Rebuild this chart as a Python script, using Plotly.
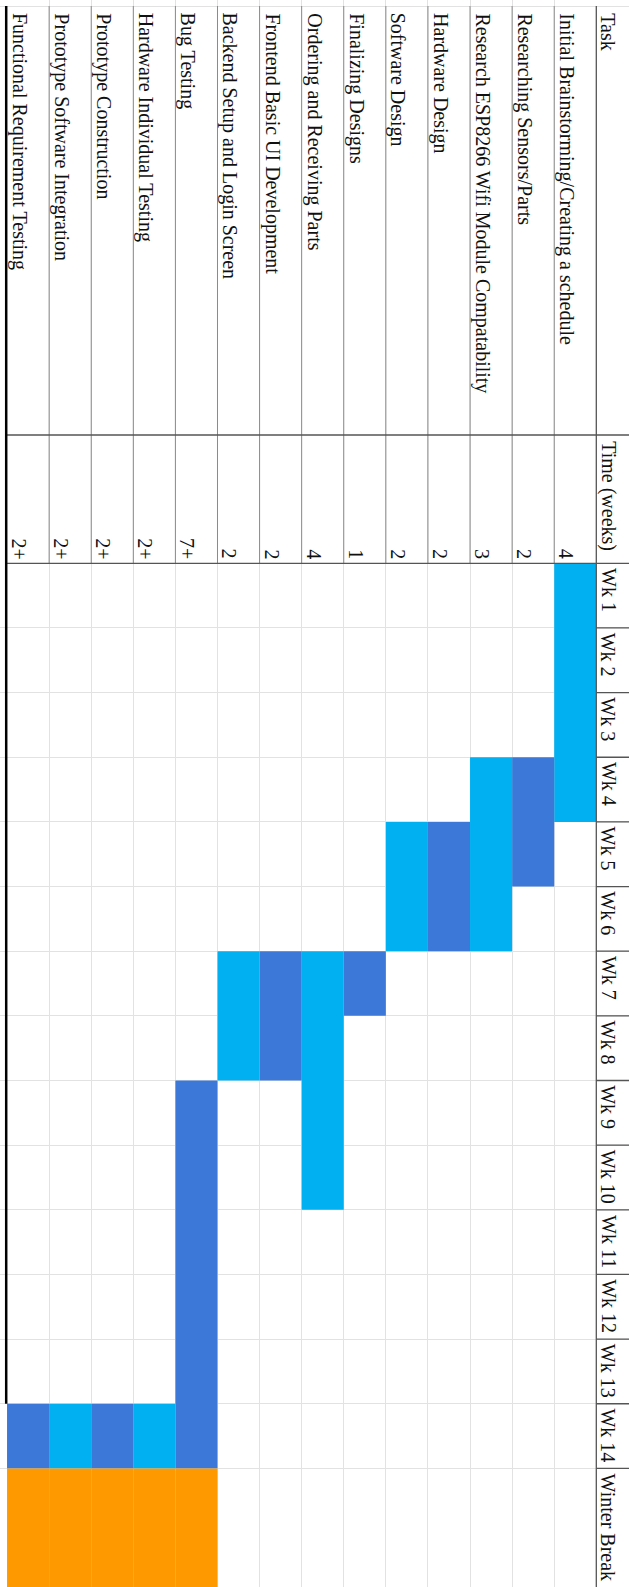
import plotly.graph_objects as go

# ---------------- data ----------------
tasks = [
    "Initial Brainstorming/Creating a schedule",
    "Researching Sensors/Parts",
    "Research ESP8266 Wifi Module Compatability",
    "Hardware Design",
    "Software Design",
    "Finalizing Designs",
    "Ordering and Receiving Parts",
    "Frontend Basic UI Development",
    "Backend Setup and Login Screen",
    "Bug Testing",
    "Hardware Individual Testing",
    "Prototype Construction",
    "Prototype Software Integration",
    "Functional Requirement Testing",
]
time_weeks = ["4", "2", "3", "2", "2", "1", "4", "2", "2", "7+", "2+", "2+", "2+", "2+"]
start_week = [1, 4, 4, 5, 5, 7, 7, 7, 7, 9, 14, 14, 14, 14]
end_week = [4, 5, 6, 6, 6, 7, 10, 8, 8, 14, 14, 14, 14, 14]
into_winter_break = [False, False, False, False, False, False, False, False, False,
                     True, True, True, True, True]
week_labels = ["Wk 1", "Wk 2", "Wk 3", "Wk 4", "Wk 5", "Wk 6", "Wk 7", "Wk 8",
               "Wk 9", "Wk 10", "Wk 11", "Wk 12", "Wk 13", "Wk 14"]
break_label = "Winter Break"
winter_break_span = 2  # rows (runs past the bottom of the picture)
header_task = "Task"
header_time = "Time (weeks)"

# ---------------- style / geometry ----------------
W, H = 629, 1587
COL_W = 42.09          # px per task column
GRID_RIGHT = 596.3     # px of the header separator
ROW_H = 64.65          # px per week row
WK_TOP = 563.3         # px where Wk 1 starts
TIME_TOP = 435.0       # px where the "Time (weeks)" band starts
TABLE_TOP = 6.0        # px of the table's top border
LIGHT = "#00B0F0"
DARK = "#3C78D8"
ORANGE = "#FF9900"
FONT = dict(family="Liberation Serif, Times New Roman, serif", size=20, color="#111111")

n = len(tasks)
n_weeks = len(week_labels)


def ydat(px):
    return (px - WK_TOP) / ROW_H


x_range = [GRID_RIGHT / COL_W - 0.5, (GRID_RIGHT - W) / COL_W - 0.5]
y_range = [ydat(H), ydat(0)]
y_top = ydat(TABLE_TOP)
y_bottom = ydat(H) + 1
left_edge = n - 0.5
header_left = -0.5
header_right = -1.5 - 1

fig = go.Figure()


def seg_trace(xs, ys, color, width):
    fig.add_trace(go.Scatter(x=xs, y=ys, mode="lines", line=dict(color=color, width=width),
                             hoverinfo="skip", showlegend=False))


# ---------------- bars ----------------
colors = [LIGHT if i % 2 == 0 else DARK for i in range(n)]
fig.add_trace(go.Bar(
    x=list(range(n)),
    base=[s - 1 for s in start_week],
    y=[e - s + 1 for s, e in zip(start_week, end_week)],
    width=1.0,
    marker=dict(color=colors, line=dict(width=0)),
    hoverinfo="skip", showlegend=False,
))
wb = [i for i in range(n) if into_winter_break[i]]
fig.add_trace(go.Bar(
    x=wb,
    base=[n_weeks] * len(wb),
    y=[winter_break_span] * len(wb),
    width=1.0,
    marker=dict(color=ORANGE, line=dict(width=0)),
    hoverinfo="skip", showlegend=False,
))

# medium separators in the header bands
mx, my = [], []
for k in range(n - 1):
    b = k + 0.5
    mx += [b, b, None]
    my += [y_top, 0, None]
seg_trace(mx, my, "#8a8a8a", 1)

# dark separators
dx, dy = [], []
for yy in [ydat(TIME_TOP), 0]:
    dx += [left_edge, header_right, None]
    dy += [yy, yy, None]
for w in range(1, n_weeks + 1):
    dx += [header_left, header_right, None]
    dy += [w, w, None]
dx += [header_left, header_left, None]
dy += [y_top, y_bottom, None]
seg_trace(dx, dy, "#555555", 1.3)

# thick left border (hidden below the first bar of the leftmost column)
seg_trace([left_edge + 0.02, left_edge + 0.02], [y_top, start_week[-1] - 1], "#000000", 2.5)

# ---------------- text ----------------
ann = []


def add_text(txt, x, y, yanchor):
    ann.append(dict(text=txt, x=x, y=y, xref="x", yref="y", xanchor="left", yanchor=yanchor,
                    textangle=90, showarrow=False, font=FONT, borderpad=0))


for k, t in enumerate(tasks):
    add_text(t, k + 0.5, ydat(12), "top")
    add_text(time_weeks[k], k + 0.5, ydat(560), "bottom")

add_text(header_task, header_left, ydat(12), "top")
add_text(header_time, header_left, ydat(TIME_TOP + 5), "top")
for w, lab in enumerate(week_labels):
    add_text(lab, header_left, w + 4 / ROW_H, "top")
add_text(break_label, header_left, n_weeks + 4 / ROW_H, "top")

fig.update_layout(
    width=W, height=H,
    margin=dict(l=0, r=0, t=0, b=0),
    paper_bgcolor="white", plot_bgcolor="white",
    barmode="overlay",
    showlegend=False,
    hovermode=False,
    annotations=ann,
    xaxis=dict(range=x_range, showgrid=True, gridcolor="#e2e2e2", gridwidth=1,
               tickmode="array", tickvals=[k + 0.5 for k in range(n - 1)],
               zeroline=False, showticklabels=False, ticks="", fixedrange=True),
    yaxis=dict(range=y_range, showgrid=True, gridcolor="#e2e2e2", gridwidth=1,
               tickmode="array", tickvals=list(range(1, n_weeks + 1)) + [y_top],
               zeroline=False, showticklabels=False, ticks="", fixedrange=True),
)

fig.write_html("out.html")
